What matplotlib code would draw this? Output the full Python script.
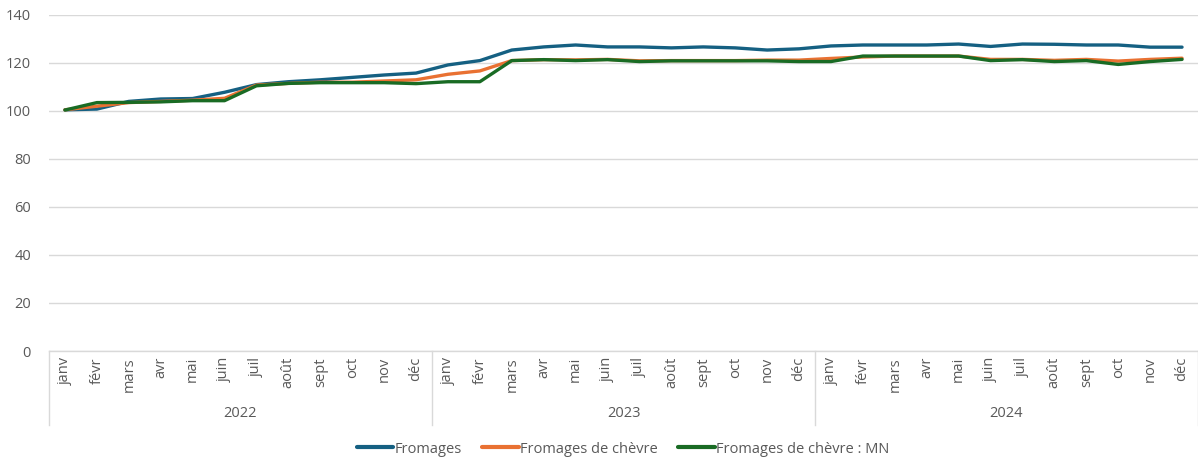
import matplotlib
matplotlib.use("Agg")
import matplotlib.pyplot as plt
from matplotlib.transforms import blended_transform_factory

plt.rcParams['font.family'] = ['Open Sans', 'DejaVu Sans']

months = ["janv", "févr", "mars", "avr", "mai", "juin", "juil", "août", "sept", "oct", "nov", "déc"]
years = ["2022", "2023", "2024"]

fromages = [100.5, 100.8, 104.0, 105.0, 105.2, 107.8, 111.0, 112.2, 113.0, 114.0, 115.0, 115.8,
            119.2, 121.0, 125.4, 126.7, 127.5, 126.7, 126.7, 126.3, 126.7, 126.3, 125.4, 125.9,
            127.1, 127.5, 127.5, 127.5, 127.9, 126.9, 127.9, 127.8, 127.5, 127.5, 126.6, 126.6]
chevre = [100.5, 102.0, 103.5, 104.0, 104.5, 105.3, 110.8, 111.5, 112.0, 112.0, 112.5, 113.0,
          115.3, 116.7, 121.0, 121.4, 121.3, 121.5, 120.9, 121.0, 121.0, 121.0, 121.2, 121.2,
          121.9, 122.5, 122.9, 122.9, 122.9, 121.5, 121.5, 121.1, 121.5, 120.8, 121.5, 122.0]
chevre_mn = [100.4, 103.5, 103.6, 103.8, 104.3, 104.3, 110.5, 111.5, 111.8, 111.8, 111.8, 111.4,
             112.2, 112.2, 121.0, 121.4, 121.0, 121.4, 120.6, 120.9, 120.9, 120.9, 120.9, 120.6,
             120.6, 122.9, 122.9, 122.9, 122.9, 121.0, 121.4, 120.6, 121.0, 119.4, 120.6, 121.5]

series = [("Fromages", fromages, "#156082"),
          ("Fromages de chèvre", chevre, "#E97132"),
          ("Fromages de chèvre : MN", chevre_mn, "#196B24")]

W, H = 1198, 461
fig = plt.figure(figsize=(W / 100, H / 100), dpi=100)
left, right, top, bottom = 49, 1198, 15, 351
ax = fig.add_axes([left / W, (H - bottom) / H, (right - left) / W, (bottom - top) / H])

n = len(months) * len(years)
x = list(range(n))
for name, vals, col in series:
    ax.plot(x, vals, color=col, lw=2.4, label=name, solid_joinstyle='round', solid_capstyle='round')

ax.set_xlim(-0.5, n - 0.5)
ax.set_ylim(0, 140)
ax.set_yticks(range(0, 141, 20))
ax.yaxis.grid(True, color="#d9d9d9", lw=1)
ax.set_axisbelow(True)
for s in ["top", "right", "left"]:
    ax.spines[s].set_visible(False)
ax.spines["bottom"].set_color("#d9d9d9")
ax.spines["bottom"].set_linewidth(1)
ax.tick_params(axis='y', length=0, labelsize=10.5, labelcolor="#595959", pad=13)
ax.set_xticks([])

# category labels
tr = blended_transform_factory(ax.transData, fig.transFigure)
for i in range(n):
    ax.text(i, (H - 357) / H, months[i % 12], transform=tr, rotation=90, ha='center', va='top',
            fontsize=10.5, color="#595959", clip_on=False)
for j, yr in enumerate(years):
    ax.text(j * 12 + 5.5, (H - 413) / H, yr, transform=tr, ha='center', va='center',
            fontsize=10.5, color="#595959", clip_on=False)
for b in [0, 12, 24, 36]:
    ax.plot([b - 0.5, b - 0.5], [(H - 351) / H, (H - 425) / H], transform=tr, color="#d9d9d9",
            lw=1, clip_on=False)

leg = fig.legend(loc='center', bbox_to_anchor=(0.52, (H - 449) / H), ncol=3, frameon=False,
                 fontsize=10.5, handlelength=2.5, handletextpad=0.1, columnspacing=1.4)
for t in leg.get_texts():
    t.set_color("#595959")
for l in leg.get_lines():
    l.set_linewidth(3)

fig.savefig("out.png", dpi=100)
